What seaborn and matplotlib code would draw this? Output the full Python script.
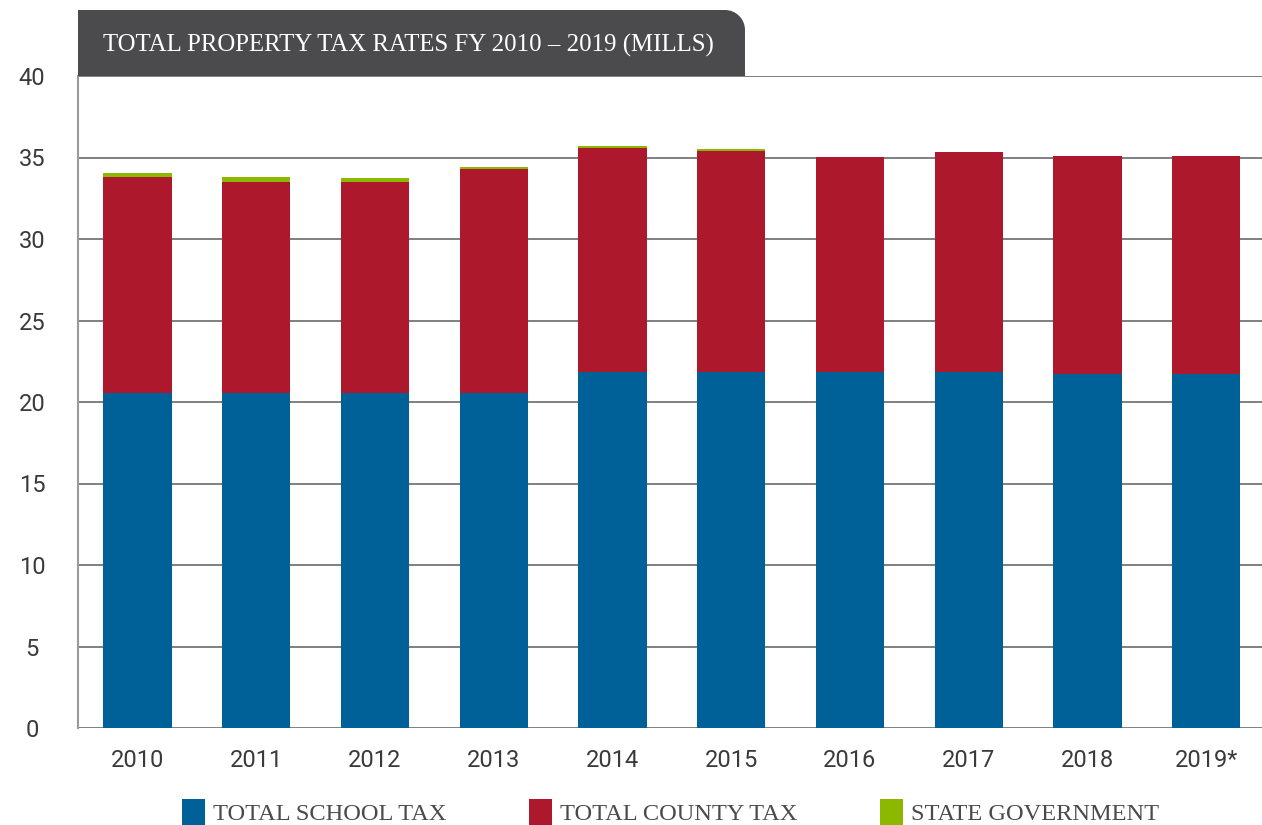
import numpy as np
import pandas as pd
import matplotlib
matplotlib.use("Agg")
import matplotlib.pyplot as plt
import seaborn as sns
from matplotlib.path import Path
from matplotlib.patches import PathPatch, Patch

years = ["2010", "2011", "2012", "2013", "2014", "2015", "2016", "2017", "2018", "2019*"]
school_tax = [20.55, 20.55, 20.55, 20.55, 21.86, 21.86, 21.86, 21.86, 21.72, 21.72]
county_tax = [13.24, 12.97, 12.97, 13.74, 13.74, 13.56, 13.17, 13.50, 13.37, 13.37]
state_gov = [0.26, 0.28, 0.22, 0.14, 0.11, 0.08, 0.0, 0.0, 0.0, 0.0]
y_ticks = [0, 5, 10, 15, 20, 25, 30, 35, 40]
title = "TOTAL PROPERTY TAX RATES FY 2010 \u2013 2019 (MILLS)"
series_names = ["TOTAL SCHOOL TAX", "TOTAL COUNTY TAX", "STATE GOVERNMENT"]

BLUE = "#006098"
RED = "#AE182D"
GREEN = "#8DB800"

df = pd.DataFrame({"year": years, "school": school_tax, "county": county_tax, "state": state_gov})
df["lvl2"] = df["school"] + df["county"]
df["lvl3"] = df["lvl2"] + df["state"]

sns.set_theme(style="white")
plt.rcParams["font.family"] = ["Roboto", "DejaVu Sans"]

W, H = 1262, 825
fig = plt.figure(figsize=(W / 100, H / 100), dpi=100)
ax = fig.add_axes([78 / W, 1 - 728 / H, (W - 78) / W, (728 - 76) / H])

for col, c in [("lvl3", GREEN), ("lvl2", RED), ("school", BLUE)]:
    sns.barplot(data=df, x="year", y=col, color=c, width=0.575, saturation=1,
                ax=ax, linewidth=0, zorder=3)

ax.set_xlim(-0.5, 9.47)
ax.set_ylim(0, 40)
ax.set_yticks(y_ticks)
ax.set_xlabel("")
ax.set_ylabel("")
ax.tick_params(axis="y", labelsize=17, colors="#3a3a3a", length=0)
ax.tick_params(axis="x", labelsize=17, colors="#3a3a3a", length=0, pad=15)
for lab in ax.get_yticklabels():
    lab.set_horizontalalignment("center")
ax.tick_params(axis="y", pad=33)
ax.yaxis.grid(True, color="#6a6a6a", linewidth=1.2, zorder=0)
ax.set_axisbelow(True)
for s in ["top", "right", "bottom"]:
    ax.spines[s].set_visible(False)
ax.spines["left"].set_color("#9a9a9a")
ax.spines["left"].set_linewidth(1.5)

# title tab with rounded top-right corner (display pixel coords)
x0, x1 = 78, 745
yt, yb = H - 10, H - 76
r = 20
k = 0.5523 * r
verts = [(x0, yb), (x0, yt), (x1 - r, yt),
         (x1 - r + k, yt), (x1, yt - r + k), (x1, yt - r),
         (x1, yb), (x0, yb)]
codes = [Path.MOVETO, Path.LINETO, Path.LINETO,
         Path.CURVE4, Path.CURVE4, Path.CURVE4,
         Path.LINETO, Path.CLOSEPOLY]
tab = PathPatch(Path(verts, codes), facecolor="#4B4B4D", edgecolor="none", transform=None, zorder=5)
fig.patches.append(tab)
fig.text(103 / W, 1 - 45 / H, title, color="white", fontsize=17.9,
         family=["Liberation Serif"], va="center", ha="left", zorder=10)

handles = [Patch(facecolor=c, edgecolor="none") for c in [BLUE, RED, GREEN]]
leg = fig.legend(handles, series_names, loc="center left", bbox_to_anchor=(182 / W, 1 - 812 / H),
                 ncol=3, frameon=False, handlelength=0.95, handleheight=1.3,
                 handletextpad=0.3, columnspacing=3.4, borderpad=0, borderaxespad=0,
                 prop={"family": "Liberation Serif", "size": 17.6})
for t in leg.get_texts():
    t.set_color("#4a4a4a")

fig.savefig("out.png", dpi=100)
